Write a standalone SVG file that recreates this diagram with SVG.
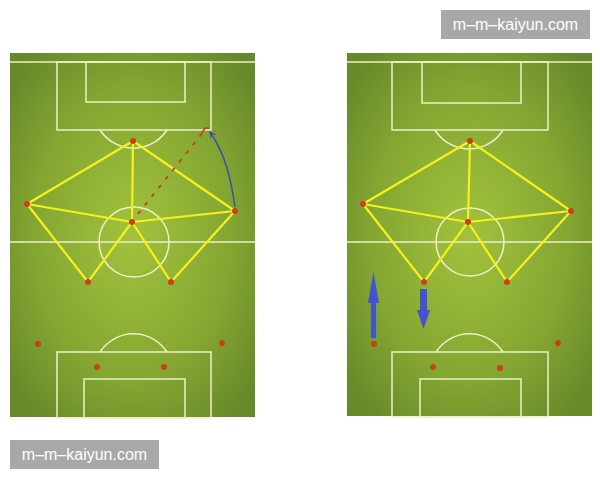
<svg xmlns="http://www.w3.org/2000/svg" width="600" height="480" viewBox="0 0 600 480">
<defs>
<radialGradient id="grass" cx="0.5" cy="0.5" r="0.65">
<stop offset="0" stop-color="#a2c23c"/>
<stop offset="0.6" stop-color="#85a732"/>
<stop offset="1" stop-color="#66892a"/>
</radialGradient>
<marker id="openHead" viewBox="0 0 10 10" refX="9" refY="5" markerWidth="7" markerHeight="7" orient="auto" markerUnits="userSpaceOnUse">
<path d="M1,1 L9,5 L1,9" fill="none" stroke="#3a4fa8" stroke-width="1.6"/>
</marker>
</defs>
<style>
.pitch{fill:url(#grass)}
.line{fill:none;stroke:#eef0c8;stroke-width:1.5}
.link{stroke:#f4f21c;stroke-width:2.2;fill:none;stroke-linecap:round}
.dot{fill:#c8401c}
.wm rect{fill:#a8a8a8}
.wm text{font-family:"Liberation Sans",Arial,sans-serif;font-size:16px;fill:#ffffff;text-anchor:middle}
.move{fill:#4252d2}
</style>
<rect width="600" height="480" fill="#ffffff"/>

<!-- Left pitch -->
<g id="pitch-left">
<rect class="pitch" x="10" y="53" width="245" height="364"/>
<line class="line" x1="10" y1="62" x2="255" y2="62"/>
<rect class="line" x="57" y="62" width="154" height="68"/>
<rect class="line" x="86" y="62" width="99" height="40"/>
<path class="line" d="M100,130 A40,40 0 0 0 167,130"/>
<line class="line" x1="10" y1="242" x2="255" y2="242"/>
<circle class="line" cx="134" cy="242" r="35"/>
<rect class="line" x="57" y="352" width="154" height="66"/>
<rect class="line" x="84" y="379" width="101" height="39"/>
<path class="line" d="M100,352 A40,40 0 0 1 167,352"/>
</g>

<!-- Right pitch -->
<g id="pitch-right">
<rect class="pitch" x="347" y="53" width="245" height="363"/>
<line class="line" x1="347" y1="62" x2="592" y2="62"/>
<rect class="line" x="392" y="62" width="156" height="68"/>
<rect class="line" x="422" y="62" width="99" height="41"/>
<path class="line" d="M435,130 A40,40 0 0 0 503,130"/>
<line class="line" x1="347" y1="242" x2="592" y2="242"/>
<circle class="line" cx="470" cy="242" r="34"/>
<rect class="line" x="392" y="352" width="156" height="65"/>
<rect class="line" x="420" y="379" width="101" height="38"/>
<path class="line" d="M436,352 A40,40 0 0 1 503,352"/>
</g>

<!-- Connectors -->
<g id="connectors">
<line class="link" x1="133" y1="141" x2="27" y2="204"/>
<line class="link" x1="133" y1="141" x2="235" y2="211"/>
<line class="link" x1="133" y1="141" x2="132" y2="222"/>
<line class="link" x1="27" y1="204" x2="132" y2="222"/>
<line class="link" x1="132" y1="222" x2="235" y2="211"/>
<line class="link" x1="27" y1="204" x2="88" y2="282"/>
<line class="link" x1="88" y1="282" x2="132" y2="222"/>
<line class="link" x1="132" y1="222" x2="171" y2="282"/>
<line class="link" x1="171" y1="282" x2="235" y2="211"/>

<line x1="138" y1="214" x2="204" y2="131" stroke="#c4401c" stroke-width="1.8" stroke-dasharray="4,7"/>
<path d="M202,133 L205,128 L209,128" fill="none" stroke="#c4401c" stroke-width="1.5"/>
<path d="M235,207 C231,180 226,155 210,132" fill="none" stroke="#3a4fa8" stroke-width="1.5" marker-end="url(#openHead)"/>

<line class="link" x1="470" y1="141" x2="363" y2="204"/>
<line class="link" x1="470" y1="141" x2="571" y2="211"/>
<line class="link" x1="470" y1="141" x2="468" y2="222"/>
<line class="link" x1="363" y1="204" x2="468" y2="222"/>
<line class="link" x1="468" y1="222" x2="571" y2="211"/>
<line class="link" x1="363" y1="204" x2="424" y2="282"/>
<line class="link" x1="424" y1="282" x2="468" y2="222"/>
<line class="link" x1="468" y1="222" x2="507" y2="282"/>
<line class="link" x1="507" y1="282" x2="571" y2="211"/>

<path class="move" d="M371,338 L371,303 L368,303 L373.5,272 L379,303 L376,303 L376,338 Z"/>
<path class="move" d="M420,289 L427,289 L427,310 L430,310 L423.5,329 L417,310 L420,310 Z"/>
</g>

<!-- Players left -->
<g id="players-left">
<circle class="dot" cx="133" cy="141" r="3"/>
<circle class="dot" cx="27" cy="204" r="3"/>
<circle class="dot" cx="235" cy="211" r="3"/>
<circle class="dot" cx="132" cy="222" r="3"/>
<circle class="dot" cx="88" cy="282" r="3"/>
<circle class="dot" cx="171" cy="282" r="3"/>
<circle class="dot" cx="38" cy="344" r="3"/>
<circle class="dot" cx="222" cy="343" r="3"/>
<circle class="dot" cx="97" cy="367" r="3"/>
<circle class="dot" cx="164" cy="367" r="3"/>
</g>

<!-- Players right -->
<g id="players-right">
<circle class="dot" cx="470" cy="141" r="3"/>
<circle class="dot" cx="363" cy="204" r="3"/>
<circle class="dot" cx="571" cy="211" r="3"/>
<circle class="dot" cx="468" cy="222" r="3"/>
<circle class="dot" cx="424" cy="282" r="3"/>
<circle class="dot" cx="507" cy="282" r="3"/>
<circle class="dot" cx="374" cy="344" r="3"/>
<circle class="dot" cx="558" cy="343" r="3"/>
<circle class="dot" cx="433" cy="367" r="3"/>
<circle class="dot" cx="500" cy="368" r="3"/>
</g>

<!-- Watermarks -->
<g id="watermark-top" class="wm">
<rect x="441" y="10" width="149" height="29"/>
<text x="515.5" y="30">m–m–kaiyun.com</text>
</g>
<g id="watermark-bottom" class="wm">
<rect x="10" y="440" width="149" height="29"/>
<text x="84.5" y="460">m–m–kaiyun.com</text>
</g>
</svg>
